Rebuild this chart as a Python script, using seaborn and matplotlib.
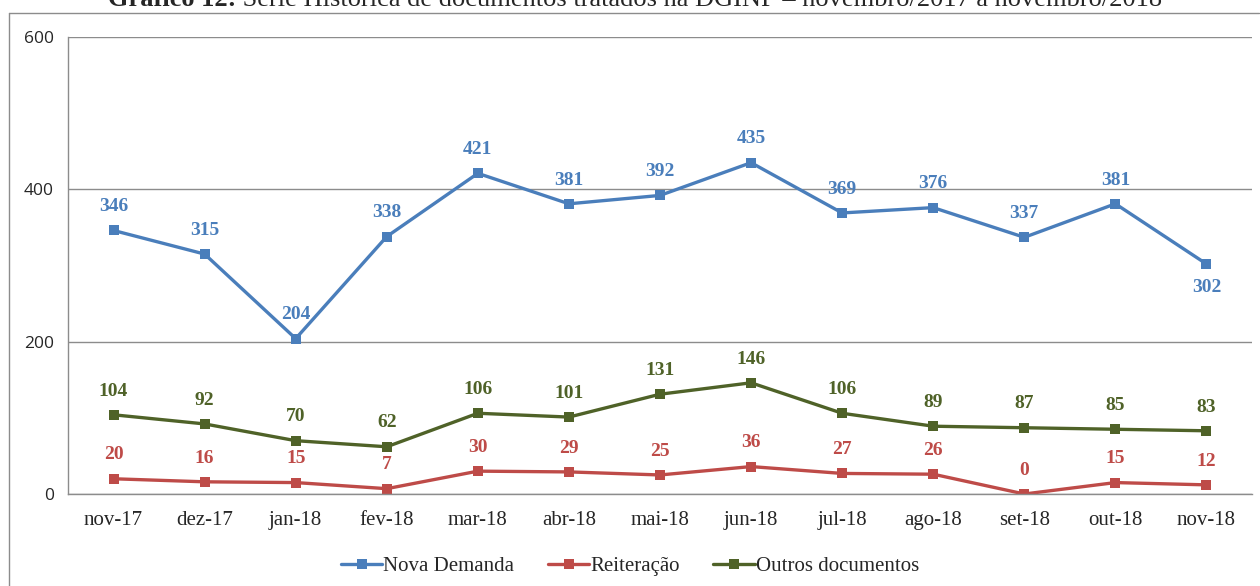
import matplotlib
matplotlib.use("Agg")
import matplotlib.pyplot as plt
import seaborn as sns
import pandas as pd
from matplotlib.lines import Line2D

# data
meses = ["nov-17", "dez-17", "jan-18", "fev-18", "mar-18", "abr-18", "mai-18",
         "jun-18", "jul-18", "ago-18", "set-18", "out-18", "nov-18"]
nova_demanda = [346, 315, 204, 338, 421, 381, 392, 435, 369, 376, 337, 381, 302]
reiteracao = [20, 16, 15, 7, 30, 29, 25, 36, 27, 26, 0, 15, 12]
outros_docs = [104, 92, 70, 62, 106, 101, 131, 146, 106, 89, 87, 85, 83]

series = {"Nova Demanda": nova_demanda,
          "Reiteração": reiteracao,
          "Outros documentos": outros_docs}
cores = {"Nova Demanda": "#4A7EBB",
         "Reiteração": "#BE4B48",
         "Outros documentos": "#4F6228"}

df = pd.DataFrame(series)
df["mes"] = meses
df["x"] = range(len(meses))
df_long = df.melt(id_vars=["mes", "x"], var_name="serie", value_name="valor")

sns.set_style("white")
serif = ["Liberation Serif", "DejaVu Serif"]

fig = plt.figure(figsize=(12.6, 5.86), dpi=100)
ax = fig.add_axes([68 / 1260, 1 - 494 / 586, (1252 - 68) / 1260, (494 - 37) / 586])

sns.lineplot(data=df_long, x="x", y="valor", hue="serie", palette=cores,
             marker="s", markersize=7.5, markeredgewidth=0, linewidth=2.4,
             legend=False, ax=ax)

ax.set_xlim(-0.5, len(meses) - 0.5)
ax.set_ylim(0, 600)
ax.set_yticks([0, 200, 400, 600])
ax.set_yticklabels(["0", "200", "400", "600"], fontsize=12.5, family="Open Sans")
ax.yaxis.grid(True, color="#8C8C8C", linewidth=1)
ax.set_axisbelow(True)

# tick marks between categories, labels in the middle
ax.set_xticks([i - 0.5 for i in range(len(meses) + 1)])
ax.set_xticklabels([])
ax.set_xticks(range(len(meses)), minor=True)
ax.set_xticklabels(meses, minor=True, fontsize=15, family=serif)
ax.tick_params(axis="x", which="major", length=6, color="#8C8C8C", direction="out")
ax.tick_params(axis="x", which="minor", length=0, pad=12)
ax.tick_params(axis="y", length=6, color="#8C8C8C", direction="out", pad=4)
ax.set_xlabel("")
ax.set_ylabel("")

for s in ["top", "right"]:
    ax.spines[s].set_visible(False)
for s in ["left", "bottom"]:
    ax.spines[s].set_color("#8C8C8C")
    ax.spines[s].set_linewidth(1)

# data labels
for nome, vals in series.items():
    for i, v in enumerate(vals):
        if nome == "Nova Demanda" and i == len(vals) - 1:
            ax.annotate(str(v), (i, v), xytext=(0, -11), textcoords="offset points",
                        ha="center", va="top", fontsize=14, fontweight="bold",
                        color=cores[nome], family=serif)
        else:
            ax.annotate(str(v), (i, v), xytext=(0, 11), textcoords="offset points",
                        ha="center", va="bottom", fontsize=14, fontweight="bold",
                        color=cores[nome], family=serif)

# legend
handles = [Line2D([0], [0], color=cores[n], linewidth=2.4, marker="s",
                  markersize=7, markeredgewidth=0) for n in series]
fig.legend(handles, list(series.keys()), loc="center", bbox_to_anchor=(0.5, 1 - 566 / 586),
           ncol=3, frameon=False, prop={"family": serif, "size": 15},
           handlelength=2.0, handletextpad=0.05, columnspacing=1.6)

# title, cut off at the top like in the original
t1 = fig.text(108 / 1260, 1 - 6 / 586, "Gráfico 12:", ha="left", va="baseline",
              fontsize=19, fontweight="bold", family=serif)
ax.annotate(" Série Histórica de documentos tratados na DGINF – novembro/2017 a novembro/2018",
            xy=(1, 0), xycoords=t1, ha="left", va="bottom", fontsize=19, family=serif,
            annotation_clip=False)

# outer frame
fig.add_artist(Line2D([9 / 1260, 9 / 1260], [0, 1 - 13 / 586], color="#8C8C8C", linewidth=1))
fig.add_artist(Line2D([9 / 1260, 1 - 1 / 1260], [1 - 13 / 586, 1 - 13 / 586], color="#8C8C8C", linewidth=1))

fig.savefig("out.png", dpi=100)
